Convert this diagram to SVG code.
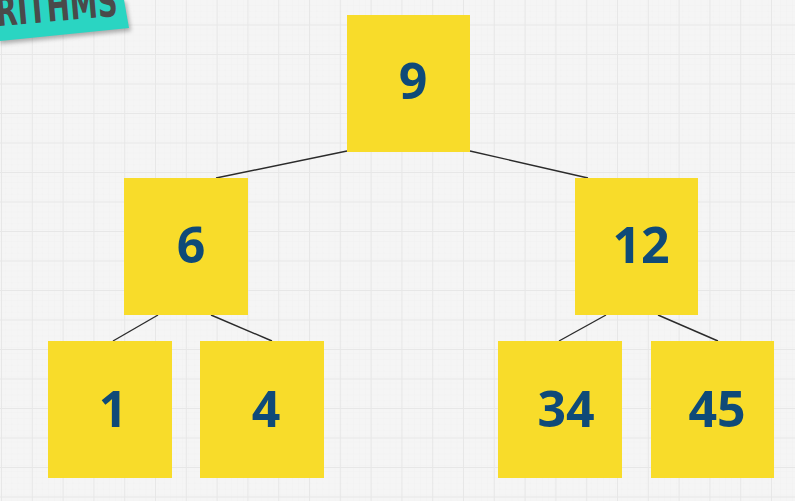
<svg xmlns="http://www.w3.org/2000/svg" width="795" height="501" viewBox="0 0 795 501">
  <defs>
    <pattern id="minor" width="6.1" height="5.9" patternUnits="userSpaceOnUse">
      <path d="M6.1 0V5.9M0 5.9H6.1" stroke="#eeeeee" stroke-width="0.6" fill="none"/>
    </pattern>
    <pattern id="major" x="1" y="-5" width="30.8" height="29.5" patternUnits="userSpaceOnUse">
      <path d="M0.5 0V29.5M0 0.5H30.8" stroke="#e7e7e7" stroke-width="1.1" fill="none"/>
    </pattern>
    <filter id="shadow" x="-20%" y="-20%" width="140%" height="160%">
      <feGaussianBlur stdDeviation="2"/>
    </filter>
  </defs>
  <style>
    .node rect { fill: #f8dc2a; }
    .node text { font-family: "Open Sans", "DejaVu Sans", sans-serif; font-weight: 700; font-size: 50px; fill: #0f4a78; text-anchor: middle; }
    .edges line { stroke: #2b2b2b; stroke-width: 1.4; }
  </style>
  <rect width="795" height="501" fill="#f5f5f5"/>
  <rect width="795" height="501" fill="url(#minor)"/>
  <rect width="795" height="501" fill="url(#major)"/>

  <g id="banner">
    <polygon points="0,2 126,2 131,31 0,44" fill="#555" opacity="0.45" filter="url(#shadow)"/>
    <polygon points="0,0 124,0 129,28 0,41" fill="#2ad5c2"/>
    <text x="-3" y="26" transform="rotate(-5 0 26)" font-family="'DejaVu Sans Condensed', 'DejaVu Sans', sans-serif" font-weight="700" font-size="42" fill="#4a4a4a" textLength="122" lengthAdjust="spacingAndGlyphs">RITHMS</text>
  </g>

  <g id="edges" class="edges">
    <line x1="347" y1="151" x2="216" y2="178"/>
    <line x1="470" y1="151" x2="588" y2="178"/>
    <line x1="158" y1="315" x2="113" y2="341"/>
    <line x1="211" y1="315" x2="272" y2="341"/>
    <line x1="606" y1="315" x2="559" y2="341"/>
    <line x1="658" y1="315" x2="718" y2="341"/>
  </g>

  <g id="n9" class="node"><rect x="347" y="15" width="123" height="137"/><text x="413" y="99">9</text></g>
  <g id="n6" class="node"><rect x="124" y="178" width="124" height="137"/><text x="191" y="263">6</text></g>
  <g id="n12" class="node"><rect x="575" y="178" width="123" height="137"/><text x="641" y="263">12</text></g>
  <g id="n1" class="node"><rect x="48" y="341" width="124" height="137"/><text x="113" y="427">1</text></g>
  <g id="n4" class="node"><rect x="200" y="341" width="124" height="137"/><text x="266" y="427">4</text></g>
  <g id="n34" class="node"><rect x="498" y="341" width="124" height="137"/><text x="566" y="427">34</text></g>
  <g id="n45" class="node"><rect x="651" y="341" width="123" height="137"/><text x="717" y="427">45</text></g>
</svg>
